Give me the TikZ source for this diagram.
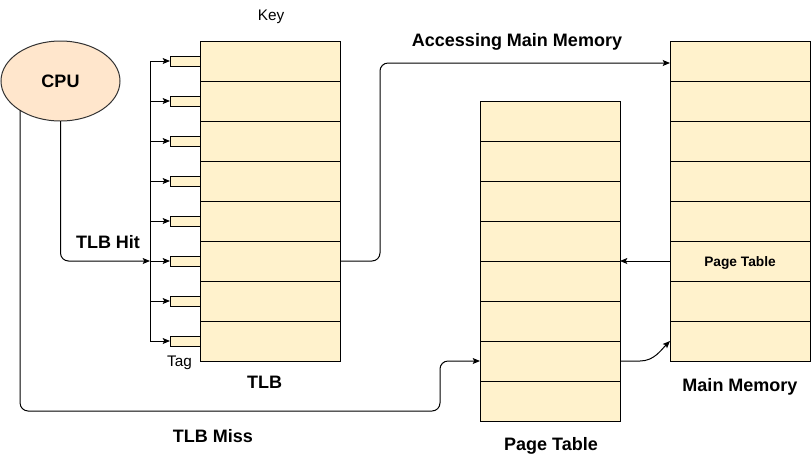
\documentclass[tikz,border=0pt]{standalone}
\usepackage{fontspec}
\setmainfont{Liberation Sans}
\usetikzlibrary{arrows.meta,shapes.geometric,calc}
\definecolor{cellfill}{HTML}{FFF2CC}
\definecolor{cpufill}{HTML}{FFE6CC}
\begin{document}
\begin{tikzpicture}[x=0.75pt,y=-0.75pt,line width=0.75pt,
  >={Stealth[length=5.5pt,width=4.5pt,inset=1.2pt]},
  cell/.style={draw,fill=cellfill,minimum width=105pt,minimum height=30pt,inner sep=0pt,outer sep=0pt},
  tagbox/.style={draw,fill=cellfill,minimum width=22.5pt,minimum height=7.5pt,inner sep=0pt,outer sep=0pt},
  biglbl/.style={font=\bfseries\fontsize{13.5}{16}\selectfont,inner sep=0pt},
  smalllbl/.style={font=\fontsize{11.5}{14}\selectfont,inner sep=0pt},
  conn/.style={->,rounded corners=6pt}]
\useasboundingbox (0,0) rectangle (811,462);
\foreach \i in {1,...,8} {
  \node[tagbox] (tag\i) at (185,{21+40*\i}) {};
  \node[cell] (tlb\i) at (270,{21+40*\i}) {};
  \coordinate (bus\i) at (150,{21+40*\i});
  \draw[->] (bus\i) -- (tag\i.west);
  \node[cell] (pt\i) at (550,{81+40*\i}) {};
  \node[cell] (mm\i) at (740,{21+40*\i}) {};
}
\draw (bus1) -- (bus8);
\node[ellipse,draw=black!80,fill=cpufill,minimum width=89.25pt,minimum height=60pt,inner sep=0pt,outer sep=0pt] (cpu) at (60.5,81) {};
\node[biglbl] (cpulbl) at (cpu.center) {CPU};
\node[font=\bfseries\fontsize{10.3}{12}\selectfont,inner sep=0pt] (mmpt) at ($(mm6.center)+(0,1.5)$) {Page Table};
% connectors
\draw[conn] (cpu.south) |- (bus6);
\coordinate (missc) at (440,411);
\draw[conn] (cpu.216) |- (missc) |- (pt7.west);
\coordinate (acc) at (380,63);
\draw[conn] (tlb6.east) -| (acc) -- (mm1.west |- acc);
\draw[->] (mm6.west) -- (pt4.south east);
\draw[->] (pt7.east) -- ++(20,0) .. controls +(14,0) and +(-9,9) .. (mm8.west);
% labels
\node[smalllbl] (keylbl) at (271,17) {Key};
\node[smalllbl] (taglbl) at (179.5,363) {Tag};
\node[biglbl] (hitlbl) at (108,242) {TLB Hit};
\node[biglbl] (tlblbl) at (264.5,382) {TLB};
\node[biglbl] (misslbl) at (213,436) {TLB Miss};
\node[biglbl] (ptlbl) at (551,446) {Page Table};
\node[biglbl] (mmlbl) at (740,387) {Main Memory};
\node[biglbl] (acclbl) at (517,42) {Accessing Main Memory};
\end{tikzpicture}
\end{document}
